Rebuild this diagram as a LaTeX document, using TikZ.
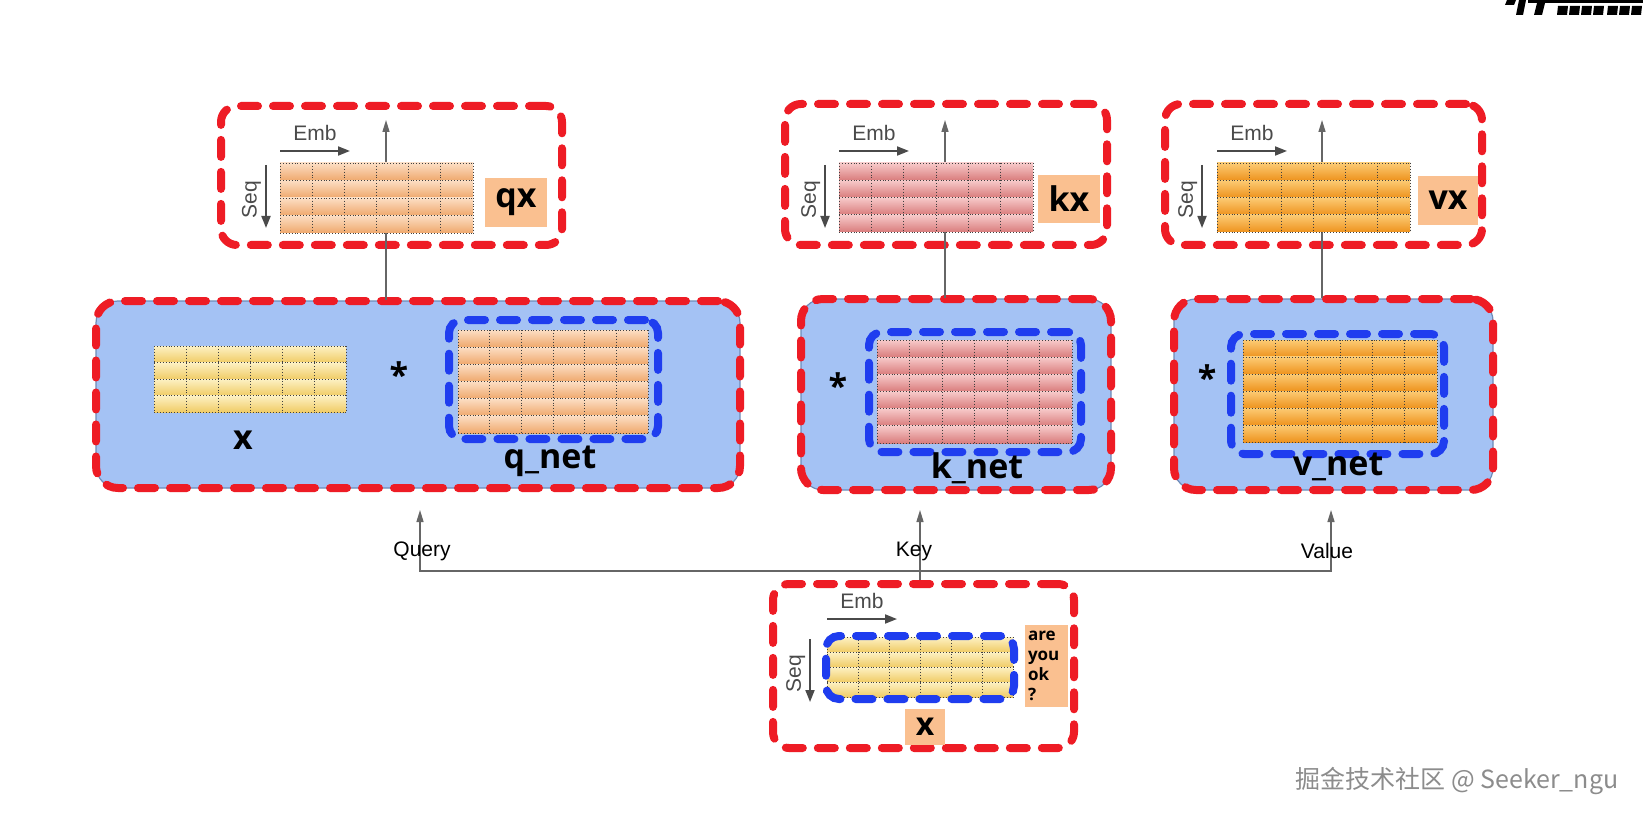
\documentclass[tikz,border=0pt]{standalone}
\usepackage{fontspec}
\setmainfont{Liberation Sans}
\newfontfamily\lblfont{Open Sans}
\newfontfamily\cjkfont{Noto Sans CJK SC}
\usetikzlibrary{arrows.meta, positioning, calc}

\definecolor{dashred}{HTML}{EE1C25}
\definecolor{dashblue}{HTML}{1F3DEF}
\definecolor{netblue}{HTML}{A4C2F4}
\definecolor{netedge}{HTML}{6E8CB8}
\definecolor{tagorange}{HTML}{FAC090}
\definecolor{axisgray}{HTML}{4A4A4A}
\definecolor{flowgray}{HTML}{666666}
\definecolor{yelA}{HTML}{FDF1C4}
\definecolor{yelB}{HTML}{F0CC66}
\definecolor{peaA}{HTML}{FCDEC4}
\definecolor{peaB}{HTML}{EFA86C}
\definecolor{pinA}{HTML}{F7CACA}
\definecolor{pinB}{HTML}{D97C7C}
\definecolor{oraA}{HTML}{FCCB74}
\definecolor{oraB}{HTML}{EE931E}

% rows and dotted cells of a matrix node: #1 node, #2 rows, #3 cols, #4 light, #5 dark
\newcommand{\cellgrid}[5]{%
  \foreach \rw [evaluate=\rw as \ra using (\rw-1)/#2, evaluate=\rw as \rb using \rw/#2] in {1,...,#2}
    \shade[top color=#4, bottom color=#5]
      ($(#1.north west)!\ra!(#1.south west)$) rectangle ($(#1.north east)!\rb!(#1.south east)$);
  \foreach \rw [evaluate=\rw as \ra using \rw/#2] in {0,...,#2}
    \draw[celline] ($(#1.north west)!\ra!(#1.south west)$) -- ($(#1.north east)!\ra!(#1.south east)$);
  \foreach \cl [evaluate=\cl as \ca using \cl/#3] in {0,...,#3}
    \draw[celline] ($(#1.north west)!\ca!(#1.north east)$) -- ($(#1.south west)!\ca!(#1.south east)$);
}

\begin{document}
\begin{tikzpicture}[x=1pt, y=-1pt,
    outbox/.style={rectangle, rounded corners=16pt, draw=dashred, line width=8pt, dash pattern=on 17pt off 15pt, line cap=round},
    netbox/.style={rectangle, rounded corners=22pt, fill=netblue, draw=netedge, line width=1.2pt,
        postaction={draw=dashred, line width=8pt, dash pattern=on 17pt off 15pt, line cap=round}},
    wbox/.style={rectangle, rounded corners=13pt, draw=dashblue, line width=8pt, dash pattern=on 17pt off 15pt, line cap=round},
    mat/.style={rectangle, inner sep=0pt, outer sep=0pt},
    celline/.style={black!75, line width=0.9pt, dotted},
    tag/.style={rectangle, fill=tagorange, inner sep=0pt, font=\lblfont\bfseries\fontsize{34}{40}\selectfont},
    bigtxt/.style={inner sep=0pt, font=\lblfont\bfseries\fontsize{34}{40}\selectfont},
    dimarrow/.style={draw=axisgray, line width=1.8pt, -{Triangle[length=12pt, width=9pt]}},
    dimtxt/.style={inner sep=1pt, text=axisgray, font=\fontsize{21}{24}\selectfont},
    flow/.style={draw=flowgray, line width=1.4pt, -{Triangle[length=12pt, width=7pt]}},
    flowtxt/.style={inner sep=0pt, font=\fontsize{21}{24}\selectfont}
]
\fill[white] (0,0) rectangle (1643,818);
\useasboundingbox (0,0) rectangle (1643,818);

% Boxes
\node[outbox, minimum width=341pt, minimum height=139pt] (qxbox) at (391.5,175.5) {};
\node[outbox, minimum width=322pt, minimum height=141pt] (kxbox) at (946,174.5) {};
\node[outbox, minimum width=317pt, minimum height=141pt] (vxbox) at (1323.5,174.5) {};

\node[netbox, minimum width=644pt, minimum height=187pt] (qnet) at (418,394.5) {};
\node[netbox, minimum width=310pt, minimum height=191pt] (knet) at (956,394.5) {};
\node[netbox, minimum width=319pt, minimum height=191pt] (vnet) at (1333.5,394.5) {};

\node[outbox, minimum width=301pt, minimum height=164pt] (xin) at (923.5,666) {};

% Edges
\coordinate (qup) at (386,120);
\coordinate (kup) at (945,120);
\coordinate (vup) at (1322,120);
\draw[flow] (qup |- qnet.north) -- (qup);
\draw[flow] (kup |- knet.north) -- (kup);
\draw[flow] (vup |- vnet.north) -- (vup);

\coordinate (qin) at (420,510);
\coordinate (kin) at (920,510);
\coordinate (vin) at (1331,510);
\coordinate (bus) at (920,571);
\draw[flow] (bus) -| (qin);
\draw[flow] (bus) -| (vin);
\draw[flow] (kin |- xin.north) -- (kin);

\node[flowtxt] (qlab) at (422,551) {Query};
\node[flowtxt] (klab) at (914,551) {Key};
\node[flowtxt] (vlab) at (1327,551) {Value};

% Matrices
\node[mat, minimum width=193pt, minimum height=70pt] (mqtop) at (376.5,198) {};
\node[mat, minimum width=194pt, minimum height=69pt] (mktop) at (936,197.5) {};
\node[mat, minimum width=193pt, minimum height=69pt] (mvtop) at (1313.5,197.5) {};
\node[mat, minimum width=192pt, minimum height=66pt] (mxq) at (250,379) {};
\node[mat, minimum width=190pt, minimum height=103pt] (mqnet) at (553,381.5) {};
\node[mat, minimum width=195pt, minimum height=103pt] (mknet) at (974.5,391.5) {};
\node[mat, minimum width=194pt, minimum height=102pt] (mvnet) at (1340,391) {};
\node[mat, minimum width=186pt, minimum height=60pt] (mxin) at (920,667) {};

\cellgrid{mqtop}{4}{6}{peaA}{peaB}
\cellgrid{mktop}{4}{6}{pinA}{pinB}
\cellgrid{mvtop}{4}{6}{oraA}{oraB}
\cellgrid{mxq}{4}{6}{yelA}{yelB}
\cellgrid{mqnet}{6}{6}{peaA}{peaB}
\cellgrid{mknet}{6}{6}{pinA}{pinB}
\cellgrid{mvnet}{6}{6}{oraA}{oraB}
\cellgrid{mxin}{4}{6}{yelA}{yelB}

\node[wbox, minimum width=209pt, minimum height=119pt] (qblue) at (553.5,379.5) {};
\node[wbox, minimum width=212pt, minimum height=120pt] (kblue) at (975,392) {};
\node[wbox, minimum width=213pt, minimum height=120pt] (vblue) at (1337.5,394) {};
\node[wbox, minimum width=188pt, minimum height=63pt] (xblue) at (920,667.5) {};

% Emb / Seq axes
\foreach \m/\up/\lf in {mqtop/12/14, mktop/12/14, mvtop/12/15, mxin/18/17} {
  \draw[dimarrow] ([yshift=\up pt]\m.north west) -- ++(70,0)
    node[midway, above=8pt, dimtxt] {Emb};
  \draw[dimarrow] ([xshift=-\lf pt, yshift=-2pt]\m.north west) -- ++(0,63)
    node[pos=0.55, rotate=90, anchor=south, dimtxt, inner sep=4pt] {Seq};
}

% Labels
\node[tag, minimum width=62pt, minimum height=49pt] (qxtag) at (516,202.5) {qx};
\node[tag, minimum width=62pt, minimum height=48pt] (kxtag) at (1069,199) {kx};
\node[tag, minimum width=60pt, minimum height=49pt] (vxtag) at (1448,200.5) {vx};

\node[bigtxt] (xname) at (243,440) {x};
\node[bigtxt] (qstar) at (399,375) {*};
\node[bigtxt] (qname) at (550,461) {q\_net};
\node[bigtxt] (kstar) at (838,386) {*};
\node[bigtxt] (kname) at (977,468) {k\_net};
\node[bigtxt] (vstar) at (1207,378) {*};
\node[bigtxt] (vname) at (1338,467) {v\_net};

\node[tag, font=\lblfont\bfseries\fontsize{17}{20}\selectfont, align=left, text width=37pt,
  minimum width=43pt, minimum height=82pt] (ayo) at (1046.5,666) {are\\you\\ok\\?};
\node[tag, font=\lblfont\bfseries\fontsize{32}{38}\selectfont, minimum width=40pt, minimum height=36pt] (xtag) at (925,727) {x};

% corner marks
\fill[black] (1507,0) -- (1516,0) -- (1514,5) -- (1505,5) -- cycle;
\fill[black] (1519,0) -- (1526,0) -- (1523,15) -- (1516,15) -- cycle;
\fill[black] (1528,0) rectangle (1643,3);
\fill[black] (1537,3) -- (1545,3) -- (1542,15) -- (1534,15) -- cycle;
\foreach \bx in {1558,1570,1582,1594,1608,1620,1632}
  \fill[black] (\bx,6) -- (\bx+10,6) -- (\bx+9,15) -- (\bx-1,15) -- cycle;

\node[text=black!45, font=\cjkfont\fontsize{25}{28}\selectfont] (mark) at (1457,781) {掘金技术社区 @ Seeker\_ngu};
\end{tikzpicture}
\end{document}
